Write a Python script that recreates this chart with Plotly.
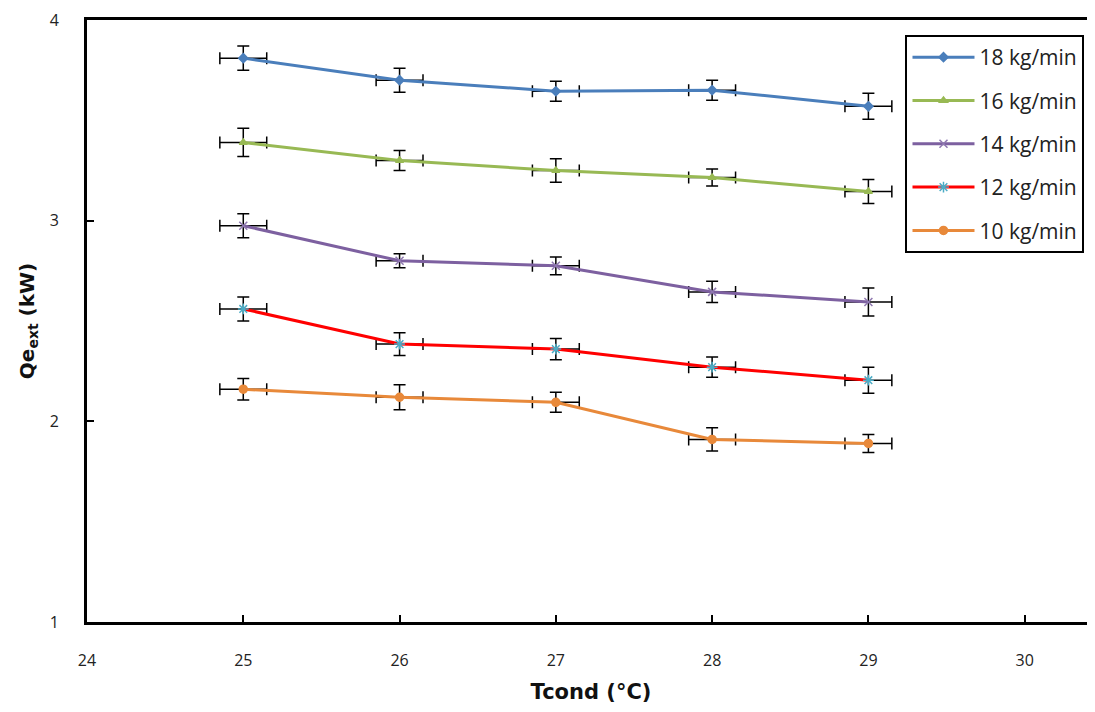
import plotly.graph_objects as go

tcond = [25, 26, 27, 28, 29]
series_names = ["18 kg/min", "16 kg/min", "14 kg/min", "12 kg/min", "10 kg/min"]
q18 = [3.81, 3.70, 3.645, 3.65, 3.57]
q16 = [3.39, 3.30, 3.25, 3.215, 3.145]
q14 = [2.975, 2.80, 2.775, 2.645, 2.595]
q12 = [2.56, 2.385, 2.36, 2.27, 2.205]
q10 = [2.16, 2.12, 2.095, 1.91, 1.89]
err18 = [0.06, 0.06, 0.05, 0.05, 0.065]
err16 = [0.07, 0.05, 0.058, 0.042, 0.06]
err14 = [0.06, 0.035, 0.044, 0.053, 0.07]
err12 = [0.06, 0.057, 0.053, 0.05, 0.065]
err10 = [0.054, 0.062, 0.05, 0.058, 0.045]
xerr = [0.15, 0.15, 0.15, 0.15, 0.15]

values = [q18, q16, q14, q12, q10]
errors = [err18, err16, err14, err12, err10]
line_colors = ["#4A7EBB", "#98B954", "#7D60A0", "#FF0000", "#E8893A"]
marker_colors = ["#4A7EBB", "#98B954", "#8F78B0", "#4BACC6", "#E8893A"]
symbols = ["diamond", "triangle-up", "x-thin-open", "asterisk-open", "circle"]
sizes = [7, 7, 8, 9, 8]

fig = go.Figure()
for i in range(5):
    fig.add_trace(go.Scatter(
        x=tcond, y=values[i], name=series_names[i], mode="lines+markers",
        legendgroup=series_names[i],
        line=dict(color=line_colors[i], width=3),
        marker=dict(symbol=symbols[i], size=sizes[i], color=marker_colors[i],
                    line=dict(color=marker_colors[i], width=1.5)),
        error_y=dict(type="data", array=errors[i], color="black", thickness=1.5, width=6),
        error_x=dict(type="data", array=xerr, color="black", thickness=1.5, width=6),
    ))

# the page body has an 8px default margin, so the figure is offset by 8px
fig.update_layout(
    width=1087, height=704,
    margin=dict(l=79, r=0, t=12, b=90),
    plot_bgcolor="white", paper_bgcolor="white",
    font=dict(family="Open Sans", size=16, color="#222"),
    showlegend=True,
    legend=dict(x=0.812, y=0.975, xanchor="left", yanchor="top",
                bordercolor="black", borderwidth=2, bgcolor="white",
                font=dict(size=21, color="#222"), tracegroupgap=13,
                traceorder="grouped", itemwidth=62),
    xaxis=dict(range=[24, 30.45], dtick=1, tick0=24, showgrid=False, zeroline=False,
               showline=True, linecolor="black", linewidth=3, mirror=True,
               ticks="inside", ticklen=7, tickcolor="black", tickwidth=1.5,
               ticklabelstandoff=22, ticklabeloverflow="allow",
               title=dict(text="<b>Tcond (°C)</b>", font=dict(family="DejaVu Sans", size=21, color="#111"),
                          standoff=15)),
    yaxis=dict(range=[1, 4], dtick=1, tick0=1, showgrid=False, zeroline=False,
               showline=True, linecolor="black", linewidth=3,
               ticks="inside", ticklen=7, tickcolor="black", tickwidth=1.5,
               ticklabelstandoff=22, ticklabeloverflow="allow",
               title=dict(text="<b>Qe<sub>ext</sub> (kW)</b>", font=dict(family="DejaVu Sans", size=20, color="#111"),
                          standoff=10)),
)

fig.write_html("out.html")
